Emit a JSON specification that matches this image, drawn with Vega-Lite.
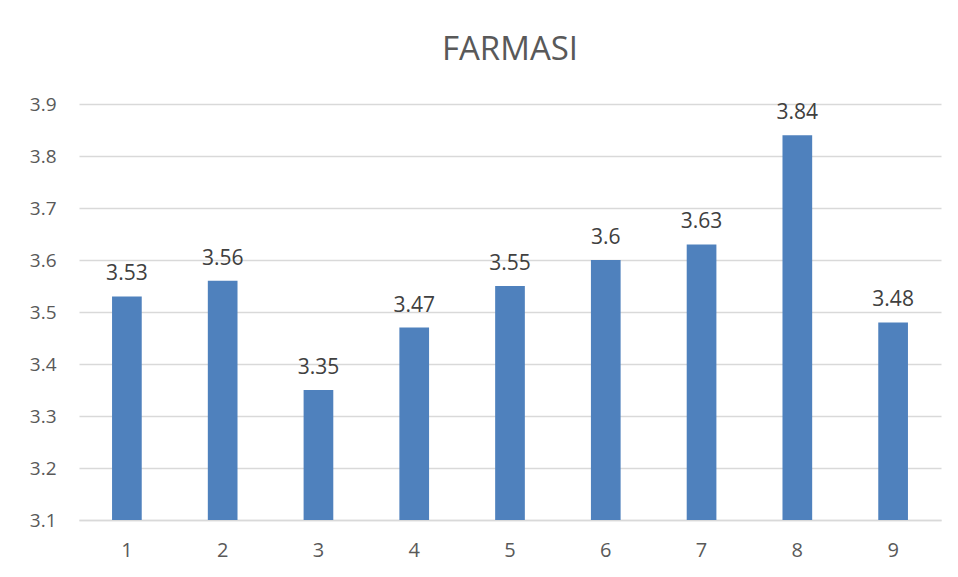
{
  "$schema": "https://vega.github.io/schema/vega-lite/v6.json",
  "autosize": {"type": "none"},
  "padding": {"left": 79, "top": 104, "right": 17, "bottom": 57},
  "width": 862,
  "height": 416,
  "background": "white",
  "title": {
    "text": "FARMASI",
    "font": "Open Sans",
    "fontSize": 33,
    "fontWeight": "normal",
    "color": "#595959",
    "anchor": "middle",
    "offset": 28
  },
  "data": {
    "values": [
      {"x": "1", "v": 3.53},
      {"x": "2", "v": 3.56},
      {"x": "3", "v": 3.35},
      {"x": "4", "v": 3.47},
      {"x": "5", "v": 3.55},
      {"x": "6", "v": 3.6},
      {"x": "7", "v": 3.63},
      {"x": "8", "v": 3.84},
      {"x": "9", "v": 3.48}
    ]
  },
  "encoding": {
    "x": {
      "field": "x",
      "type": "nominal",
      "sort": null,
      "scale": {"paddingInner": 0.69, "paddingOuter": 0.345},
      "axis": {
        "title": null,
        "labelAngle": 0,
        "labelFont": "Open Sans",
        "labelFontSize": 20,
        "labelColor": "#595959",
        "labelPadding": 20,
        "ticks": false,
        "domainColor": "#d9d9d9",
        "domainWidth": 1.5,
        "grid": false
      }
    },
    "y": {
      "field": "v",
      "type": "quantitative",
      "scale": {"domain": [3.1, 3.9], "zero": false, "nice": false},
      "axis": {
        "title": null,
        "values": [3.1, 3.2, 3.3, 3.4, 3.5, 3.6, 3.7, 3.8, 3.9],
        "format": ".1f",
        "labelFont": "Open Sans",
        "labelFontSize": 19,
        "labelColor": "#595959",
        "labelPadding": 23,
        "ticks": false,
        "domain": false,
        "grid": true,
        "gridColor": "#d9d9d9",
        "gridWidth": 1.5
      }
    }
  },
  "layer": [
    {
      "mark": {"type": "bar", "color": "#4F81BD"},
      "encoding": {"y2": {"datum": 3.1}}
    },
    {
      "mark": {
        "type": "text",
        "baseline": "bottom",
        "dy": -12,
        "font": "Open Sans",
        "fontSize": 21,
        "color": "#404040"
      },
      "encoding": {"text": {"field": "v", "type": "nominal"}}
    }
  ],
  "config": {"view": {"stroke": null}}
}
